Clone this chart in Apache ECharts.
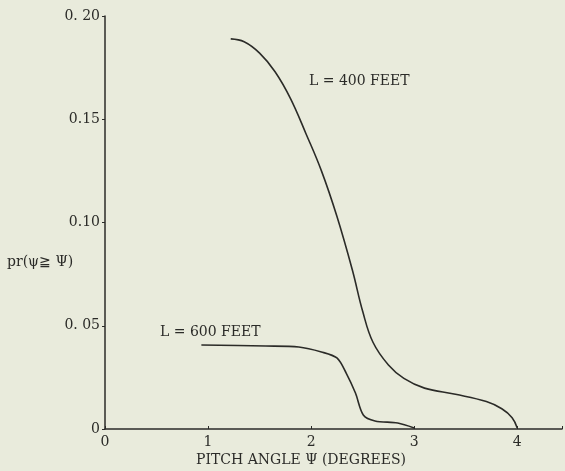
<!DOCTYPE html>
<html><head><meta charset="utf-8">
<script src="https://cdn.jsdelivr.net/npm/echarts@6/dist/echarts.min.js"></script>
<style>html,body{margin:0;padding:0;background:#e9ebdc;}#c{width:565px;height:471px;}</style>
</head><body><div id="c"></div>
<script>
var yTickValues = [0, 0.05, 0.10, 0.15, 0.20];
var yTickLabels = ['0', '0. 05', '0.10', '0.15', '0. 20'];
var xTickLabels = ['0', '1', '2', '3', '4'];
var seriesNames = ['L = 400 FEET', 'L = 600 FEET'];
var pitch400 = [1.22, 1.35, 1.5, 1.65, 1.8, 1.95, 2.1, 2.25, 2.4, 2.5, 2.6, 2.75, 2.9, 3.1, 3.4, 3.7, 3.85, 3.95, 4.0];
var prob400  = [0.1889, 0.1875, 0.182, 0.173, 0.160, 0.143, 0.125, 0.103, 0.077, 0.057, 0.042, 0.031, 0.0245, 0.0198, 0.0168, 0.0133, 0.0098, 0.0055, 0.0005];
var pitch600 = [0.935, 1.56, 1.88, 2.1, 2.25, 2.34, 2.43, 2.506, 2.62, 2.84, 3.0];
var prob600  = [0.0407, 0.0402, 0.0397, 0.0373, 0.0344, 0.0271, 0.0174, 0.0068, 0.0039, 0.0029, 0.0005];

function pairs(xs, ys){ return xs.map(function(x,i){ return [x, ys[i]]; }); }
var font = "'DejaVu Serif', 'Liberation Serif', serif";
var ink = '#2b2b28';
var chart = echarts.init(document.getElementById('c'));
chart.setOption({
  backgroundColor: '#e9ebdc',
  animation: false,
  grid: {left: 105, right: 0, top: 16, bottom: 42},
  xAxis: {
    type: 'value', min: 0, max: 4.434, interval: 1,
    axisLine: {lineStyle: {color: ink, width: 1.5}},
    axisTick: {inside: true, length: 3, lineStyle: {color: ink}},
    splitLine: {show: false},
    axisLabel: {color: ink, fontFamily: font, fontSize: 14, margin: 6,
      formatter: function(v){ var i = Math.round(v); return Math.abs(v - i) < 1e-6 && i < xTickLabels.length ? xTickLabels[i] : ''; }}
  },
  yAxis: {
    type: 'value', min: 0, max: 0.20, interval: 0.05,
    axisLine: {show: true, lineStyle: {color: ink, width: 1.5}},
    axisTick: {show: true, length: 3, lineStyle: {color: ink}},
    splitLine: {show: false},
    axisLabel: {color: ink, fontFamily: font, fontSize: 14, margin: 5,
      formatter: function(v){ for (var i=0;i<yTickValues.length;i++){ if (Math.abs(v-yTickValues[i])<1e-6) return yTickLabels[i]; } return ''; }}
  },
  series: [
    {name: seriesNames[0], type: 'line', data: pairs(pitch400, prob400), smooth: 0.4, showSymbol: false, lineStyle: {color: ink, width: 1.6}},
    {name: seriesNames[1], type: 'line', data: pairs(pitch600, prob600), smooth: 0.3, showSymbol: false, lineStyle: {color: ink, width: 1.6}}
  ],
  graphic: [
    {type: 'text', left: 309, top: 74, style: {text: seriesNames[0], font: '14px ' + font, fill: ink}},
    {type: 'text', left: 160, top: 325, style: {text: seriesNames[1], font: '14px ' + font, fill: ink}},
    {type: 'text', left: 7, top: 255, style: {text: 'pr(ψ≧ Ψ)', font: '14px ' + font, fill: ink}},
    {type: 'text', left: 196, top: 453, style: {text: 'PITCH ANGLE Ψ (DEGREES)', font: '14px ' + font, fill: ink}}
  ]
});
</script></body></html>
